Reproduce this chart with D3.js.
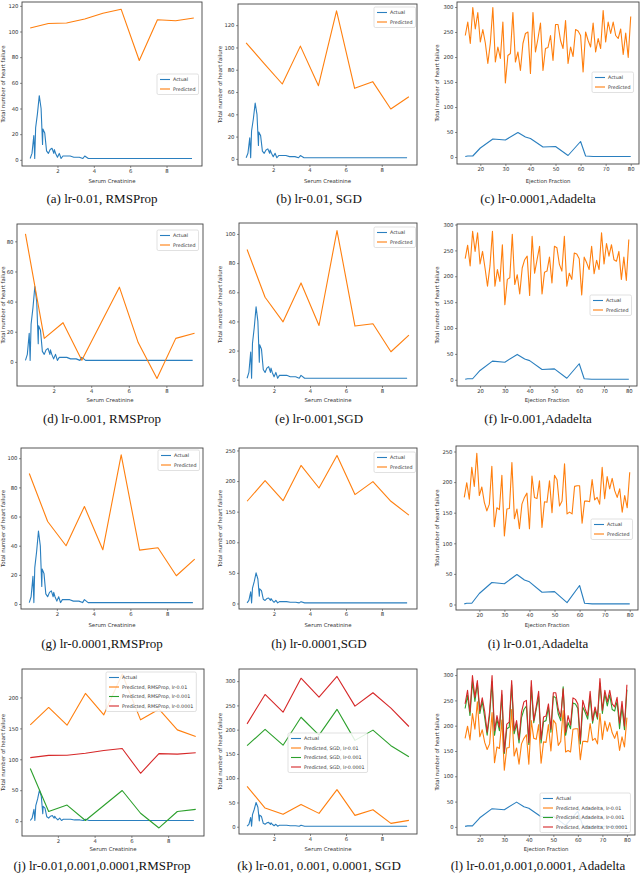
<!DOCTYPE html>
<html>
<head>
<meta charset="utf-8">
<script src="https://cdn.jsdelivr.net/npm/d3@7"></script>
<style>
body { margin: 0; background: #fff; }
svg { display: block; }
.tick text { font-family: "DejaVu Sans", sans-serif; font-size: 5.3px; fill: #333; }
.tick line { stroke: #444; stroke-width: 0.6; }
.lab { font-family: "DejaVu Sans", sans-serif; fill: #333; }
.cap { font-family: "Liberation Serif", "Times New Roman", serif; font-size: 13px; fill: #111; }
</style>
</head>
<body>
<svg id="fig" width="640" height="874"></svg>
<script>

/*** DATA ***/

// actual counts per serum creatinine value
let creatX      = [0.5, 0.6, 0.7, 0.75, 0.8, 0.9, 1.0, 1.1, 1.18, 1.2, 1.3, 1.4, 1.5, 1.6, 1.7, 1.8, 1.83, 1.9, 2.0, 2.1,
                   2.2, 2.3, 2.4, 2.5, 2.7, 2.9, 3.0, 3.2, 3.4, 3.5, 3.7, 4.0, 4.4, 5.0, 5.8, 6.1, 6.8, 9.0, 9.4];
let creatActual = [1, 5, 19, 1, 25, 36, 50, 40, 12, 24, 21, 7, 5, 8, 9, 5, 8, 5, 2, 5,
                   1, 3, 3, 3, 3, 2, 2, 2, 1, 3, 1, 1, 1, 1, 1, 1, 1, 1, 1];

// predicted counts per creatinine bin
let binX = [0.5, 1.5, 2.5, 3.5, 4.5, 5.5, 6.5, 7.5, 8.5, 9.5];
let predRms01   = [102.7, 106.3, 106.6, 109.7, 114.3, 117.4, 77.4, 109.2, 108.4, 110.5];
let predSgd01   = [104.2, 85.5, 67.2, 101.2, 65.7, 132.8, 63.3, 69.3, 44.8, 55.8];
let predRms001  = [85, 15.6, 26, 1.1, 25.3, 49.6, 12.8, -11, 15.6, 19];
let predSgd001  = [89.3, 56.6, 39.7, 66.4, 37.2, 102.3, 36.8, 38.4, 19.2, 30.6];
let predRms0001 = [89.5, 56.6, 40, 66.9, 37.2, 102.3, 37, 38.6, 19.4, 30.8];
let predSgd0001 = [167, 200.7, 168, 225.6, 188.7, 241.9, 177.9, 199, 167, 144.3];
let predRmsJ    = [155.7, 183.8, 155.1, 206.5, 171.9, 238, 163.8, 181, 147.6, 136.8];
let predSgdK01  = [83.3, 38.5, 25.5, 46, 27.5, 76.4, 23.4, 35, 6.9, 13];
let predSgdK0001 = [212, 272.5, 236, 306, 267, 309.7, 248.5, 276, 244.3, 206.5];

// actual counts per ejection fraction value
let ejectX      = [14, 15, 17, 20, 25, 30, 35, 38, 40, 45, 50, 55, 60, 62, 65, 70, 80];
let ejectActual = [1, 2, 2, 18, 36, 34, 49, 40, 37, 20, 21, 3, 31, 2, 1, 1, 1];

// predicted (Adadelta) per ejection fraction sample
let ejectSamples = [14, 15, 16, 17, 18, 19, 20, 21, 22, 23, 24, 25, 26, 27, 28, 29, 30, 31, 32, 33,
                    34, 35, 36, 37, 38, 39, 40, 41, 42, 43, 44, 45, 46, 47, 48, 49, 50, 51, 52, 53,
                    54, 55, 56, 57, 58, 59, 60, 61, 62, 63, 64, 65, 66, 67, 68, 69, 70, 71, 72, 73,
                    74, 75, 76, 77, 78, 79, 80];
let predAda0001 = [243, 270, 227, 299, 256, 289, 230, 255, 228, 187, 228, 299, 190, 220, 197, 270, 148, 203, 207, 289,
                   190, 210, 173, 227, 247, 250, 167, 289, 210, 237, 268, 173, 217, 219, 243, 193, 265, 265, 233, 217,
                   273, 187, 220, 201, 255, 252, 243, 170, 250, 233, 220, 268, 210, 237, 217, 293, 230, 270, 247, 270,
                   243, 237, 256, 205, 248, 199, 281];
let predAda001  = [234, 260, 220, 287, 248, 284, 224, 248, 216, 181, 220, 287, 181, 213, 190, 261, 145, 194, 197, 281,
                   184, 203, 166, 216, 232, 239, 163, 277, 206, 232, 258, 166, 208, 210, 237, 187, 258, 255, 223, 210,
                   277, 181, 206, 194, 245, 243, 234, 164, 237, 226, 213, 258, 205, 231, 213, 284, 224, 263, 239, 261,
                   232, 229, 248, 194, 237, 192, 271];
let predAda01   = [175, 199, 172, 224, 193, 247, 178, 192, 167, 153, 164, 226, 127, 158, 155, 211, 112, 156, 157, 232,
                   140, 156, 124, 164, 175, 182, 124, 210, 175, 173, 202, 126, 168, 167, 202, 150, 211, 204, 161, 169,
                   230, 148, 151, 148, 193, 194, 194, 133, 169, 169, 168, 204, 171, 175, 164, 224, 173, 209, 189, 206,
                   186, 175, 189, 151, 178, 158, 216];

let creatTicks = [2, 4, 6, 8];
let ejectTicks = [20, 30, 40, 50, 60, 70, 80];

/*** COLOURS ***/
let blue = "#2a7fbf", orange = "#ff7f0e", green = "#2ca02c", red = "#d62728";

/*** PANELS ***/
let svg = d3.select("#fig");
let creatDomain = [0.05, 9.95], ejectDomain = [10.7, 83.3];

let panels = [
  { cap: "(a) lr-0.01, RMSProp", box: [22, 2, 202, 166], yd: [-4.8, 123], yt: [0, 20, 40, 60, 80, 100, 120], kind: "c",
    series: [["Actual", creatX, creatActual, blue], ["Predicted", binX, predRms01, orange]], leg: [157, 74], row: 0, col: 0 },
  { cap: "(b) lr-0.01, SGD", box: [238, 4, 417, 165], yd: [-5.5, 139], yt: [0, 20, 40, 60, 80, 100, 120], kind: "c",
    series: [["Actual", creatX, creatActual, blue], ["Predicted", binX, predSgd01, orange]], leg: [374, 7], row: 0, col: 1 },
  { cap: "(c) lr-0.0001,Adadelta", box: [457, 2, 639, 164], yd: [-14, 310], yt: [0, 50, 100, 150, 200, 250, 300], kind: "e",
    series: [["Actual", ejectX, ejectActual, blue], ["Predicted", ejectSamples, predAda0001, orange]], leg: [592, 72], row: 0, col: 2 },

  { cap: "(d) lr-0.001, RMSProp", box: [17, 224, 203, 386], yd: [-16, 91.5], yt: [0, 20, 40, 60, 80], kind: "c",
    series: [["Actual", creatX, creatActual, blue], ["Predicted", binX, predRms001, orange]], leg: [157, 230], row: 1, col: 0 },
  { cap: "(e) lr-0.001,SGD", box: [239, 223, 417, 386], yd: [-4.3, 107.5], yt: [0, 20, 40, 60, 80, 100], kind: "c",
    series: [["Actual", creatX, creatActual, blue], ["Predicted", binX, predSgd001, orange]], leg: [374, 227], row: 1, col: 1 },
  { cap: "(f) lr-0.001,Adadelta", box: [457, 224, 637, 386], yd: [-12, 301], yt: [0, 50, 100, 150, 200, 250, 300], kind: "e",
    series: [["Actual", ejectX, ejectActual, blue], ["Predicted", ejectSamples, predAda001, orange]], leg: [590, 295], row: 1, col: 2 },

  { cap: "(g) lr-0.0001,RMSProp", box: [21, 448, 203, 609], yd: [-3.4, 107], yt: [0, 20, 40, 60, 80, 100], kind: "c",
    series: [["Actual", creatX, creatActual, blue], ["Predicted", binX, predRms0001, orange]], leg: [158, 450], row: 2, col: 0 },
  { cap: "(h) lr-0.0001,SGD", box: [239, 448, 417, 609], yd: [-9, 254], yt: [0, 50, 100, 150, 200, 250], kind: "c",
    series: [["Actual", creatX, creatActual, blue], ["Predicted", binX, predSgd0001, orange]], leg: [374, 452], row: 2, col: 1 },
  { cap: "(i) lr-0.01,Adadelta", box: [456, 446, 638, 610], yd: [-9, 259], yt: [0, 50, 100, 150, 200, 250], kind: "e",
    series: [["Actual", ejectX, ejectActual, blue], ["Predicted", ejectSamples, predAda01, orange]], leg: [591, 519], row: 2, col: 2 },

  { cap: "(j) lr-0.01,0.001,0.0001,RMSProp", box: [22, 669, 204, 836], yd: [-24, 246], yt: [0, 50, 100, 150, 200], kind: "c",
    series: [["Actual", creatX, creatActual, blue],
             ["Predicted, RMSProp, lr-0.01", binX, predRmsJ, orange],
             ["Predicted, RMSProp, lr-0.001", binX, predRms001, green],
             ["Predicted, RMSProp, lr-0.0001", binX, predRms01, red]], leg: [106, 672], row: 3, col: 0 },
  { cap: "(k) lr-0.01, 0.001, 0.0001, SGD", box: [239, 669, 417, 834], yd: [-15, 325], yt: [0, 50, 100, 150, 200, 250, 300], kind: "c",
    series: [["Actual", creatX, creatActual, blue],
             ["Predicted, SGD, lr-0.01", binX, predSgdK01, orange],
             ["Predicted, SGD, lr-0.001", binX, predSgd0001, green],
             ["Predicted, SGD, lr-0.0001", binX, predSgdK0001, red]], leg: [288, 733], row: 3, col: 1 },
  { cap: "(l) lr-0.01,0.001,0.0001, Adadelta", box: [457, 669, 635, 835], yd: [-16, 312], yt: [0, 50, 100, 150, 200, 250, 300], kind: "e",
    series: [["Actual", ejectX, ejectActual, blue],
             ["Predicted, Adadelta, lr-0.01", ejectSamples, predAda01, orange],
             ["Predicted, Adadelta, lr-0.001", ejectSamples, predAda001, green],
             ["Predicted, Adadelta, lr-0.0001", ejectSamples, predAda0001, red]], leg: [540, 793], row: 3, col: 2 }
];

// row / column positions for labels and captions
let xLabelY  = [183, 402, 627, 851],
    captionY = [203, 423, 648, 870],
    captionX = [102, 319, 538],
    yLabelX  = [3, 220, 437];

/*** DRAW ***/
function drawPanel(p) {
  let [l, t, r, b] = p.box;
  let x = d3.scaleLinear().domain(p.kind == "c" ? creatDomain : ejectDomain).range([l, r]),
      y = d3.scaleLinear().domain(p.yd).range([b, t]);
  let g = svg.append("g");

  // axes
  g.append("g").attr("transform", `translate(0,${b})`)
    .call(d3.axisBottom(x).tickValues(p.kind == "c" ? creatTicks : ejectTicks).tickSize(2).tickPadding(1.5))
    .call(a => a.select(".domain").remove());
  g.append("g").attr("transform", `translate(${l},0)`)
    .call(d3.axisLeft(y).tickValues(p.yt).tickSize(2).tickPadding(1.5))
    .call(a => a.select(".domain").remove());

  // lines
  let line = d3.line().x(d => x(d[0])).y(d => y(d[1]));
  p.series.forEach(s => {
    g.append("path")
      .datum(s[1].map((v, i) => [v, s[2][i]]))
      .attr("d", line)
      .attr("fill", "none")
      .attr("stroke", s[3])
      .attr("stroke-width", 1.1)
      .attr("stroke-linejoin", "round");
  });

  // frame
  g.append("rect").attr("x", l).attr("y", t).attr("width", r - l).attr("height", b - t)
    .attr("fill", "none").attr("stroke", "#444").attr("stroke-width", 0.9);

  // axis labels
  g.append("text").attr("class", "lab")
    .attr("x", (l + r) / 2).attr("y", xLabelY[p.row])
    .attr("text-anchor", "middle").attr("font-size", 5.4)
    .text(p.kind == "c" ? "Serum Creatinine" : "Ejection Fraction");
  g.append("text").attr("class", "lab")
    .attr("transform", `translate(${yLabelX[p.col] + 2},${(t + b) / 2}) rotate(-90)`)
    .attr("text-anchor", "middle").attr("font-size", 5.4)
    .text("Total number of heart failure");

  // legend
  let lg = g.append("g").attr("transform", `translate(${p.leg[0]},${p.leg[1]})`);
  let bg = lg.append("rect").attr("fill", "#fff").attr("fill-opacity", 0.85)
    .attr("stroke", "#ccc").attr("stroke-width", 0.6).attr("rx", 1.5);
  let maxW = 0;
  p.series.forEach((s, i) => {
    let yy = 5.5 + i * 9.5;
    lg.append("line").attr("x1", 3).attr("x2", 13).attr("y1", yy).attr("y2", yy)
      .attr("stroke", s[3]).attr("stroke-width", 1.1);
    let tx = lg.append("text").attr("class", "lab").attr("x", 16).attr("y", yy + 1.7)
      .attr("font-size", 4.8).text(s[0]);
    maxW = Math.max(maxW, tx.node().getComputedTextLength());
  });
  bg.attr("width", maxW + 19).attr("height", p.series.length * 9.5 + 1.5);

  // caption
  svg.append("text").attr("class", "cap")
    .attr("x", captionX[p.col]).attr("y", captionY[p.row])
    .attr("text-anchor", "middle").text(p.cap);
}

panels.forEach(drawPanel);
</script>
</body>
</html>
